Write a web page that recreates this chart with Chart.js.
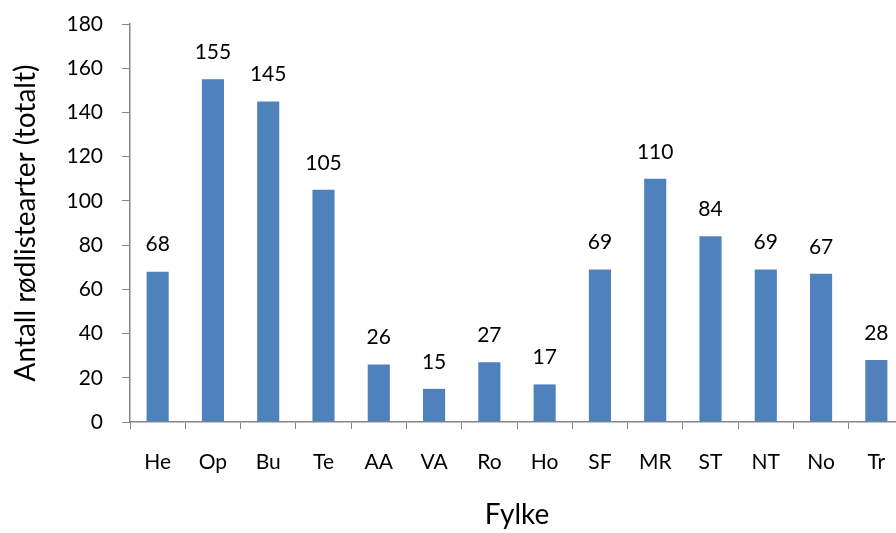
<!DOCTYPE html>
<html>
<head>
<meta charset="utf-8">
<script src="https://cdn.jsdelivr.net/npm/chart.js@4.4.0/dist/chart.umd.min.js"></script>
<style>
  html, body { margin: 0; padding: 0; background: #fff; overflow: hidden; }
  #wrap { width: 904px; height: 533px; }
</style>
</head>
<body>
<div id="wrap"><canvas id="fylkeChart" width="904" height="533"></canvas></div>
<script>
// Data - rødlistearter per fylke
const fylker = ['He', 'Op', 'Bu', 'Te', 'AA', 'VA', 'Ro', 'Ho', 'SF', 'MR', 'ST', 'NT', 'No', 'Tr'];
const antall = [68, 155, 145, 105, 26, 15, 27, 17, 69, 110, 84, 69, 67, 28];
const yTicks = [0, 20, 40, 60, 80, 100, 120, 140, 160, 180];

const fontFamily = 'Lato, "Open Sans", sans-serif';
const axisColor = '#868686';

// Verdier over søylene
const verdiPlugin = {
    id: 'verdier',
    afterDatasetsDraw(chart) {
        const ctx = chart.ctx;
        const meta = chart.getDatasetMeta(0);
        ctx.save();
        ctx.font = '21px ' + fontFamily;
        ctx.fillStyle = '#000';
        ctx.textAlign = 'center';
        ctx.textBaseline = 'middle';
        meta.data.forEach(function(bar, i) {
            ctx.fillText(String(chart.data.datasets[0].data[i]), bar.x, bar.y - 27);
        });
        ctx.restore();
    }
};

const ctx = document.getElementById('fylkeChart').getContext('2d');
new Chart(ctx, {
    type: 'bar',
    data: {
        labels: fylker,
        datasets: [{
            data: antall,
            backgroundColor: '#4F81BD',
            borderWidth: 0,
            categoryPercentage: 1,
            barPercentage: 0.4
        }]
    },
    options: {
        responsive: false,
        animation: false,
        layout: { padding: { top: 24, right: 0, left: 0, bottom: 0 } },
        plugins: {
            legend: { display: false },
            tooltip: { enabled: false }
        },
        scales: {
            x: {
                offset: true,
                grid: {
                    display: true,
                    offset: true,
                    drawOnChartArea: false,
                    drawTicks: true,
                    tickLength: 7,
                    color: axisColor
                },
                border: { color: axisColor, width: 1.5 },
                ticks: {
                    color: '#000',
                    font: { family: fontFamily, size: 21 },
                    padding: 21,
                    maxRotation: 0,
                    autoSkip: false
                },
                title: {
                    display: true,
                    text: 'Fylke',
                    color: '#000',
                    font: { family: fontFamily, size: 28 },
                    padding: { top: 1, bottom: 1 }
                },
                afterFit: function(scale) {
                    scale.height = 111;
                    scale.paddingLeft = 0;
                    scale.paddingRight = 0;
                }
            },
            y: {
                min: 0,
                max: 180,
                afterBuildTicks: function(scale) {
                    scale.ticks = yTicks.map(function(v) { return { value: v }; });
                },
                grid: {
                    display: true,
                    drawOnChartArea: false,
                    drawTicks: true,
                    tickLength: 8,
                    color: axisColor
                },
                border: { color: axisColor, width: 1.5 },
                ticks: {
                    color: '#000',
                    font: { family: fontFamily, size: 21 },
                    padding: 19
                },
                title: {
                    display: true,
                    text: 'Antall rødlistearter (totalt)',
                    color: '#000',
                    font: { family: fontFamily, size: 28 },
                    padding: { top: 9, bottom: 0 }
                },
                afterFit: function(scale) {
                    scale.width = 130;
                    scale.paddingTop = 0;
                    scale.paddingBottom = 0;
                }
            }
        }
    },
    plugins: [verdiPlugin]
});
</script>
</body>
</html>
